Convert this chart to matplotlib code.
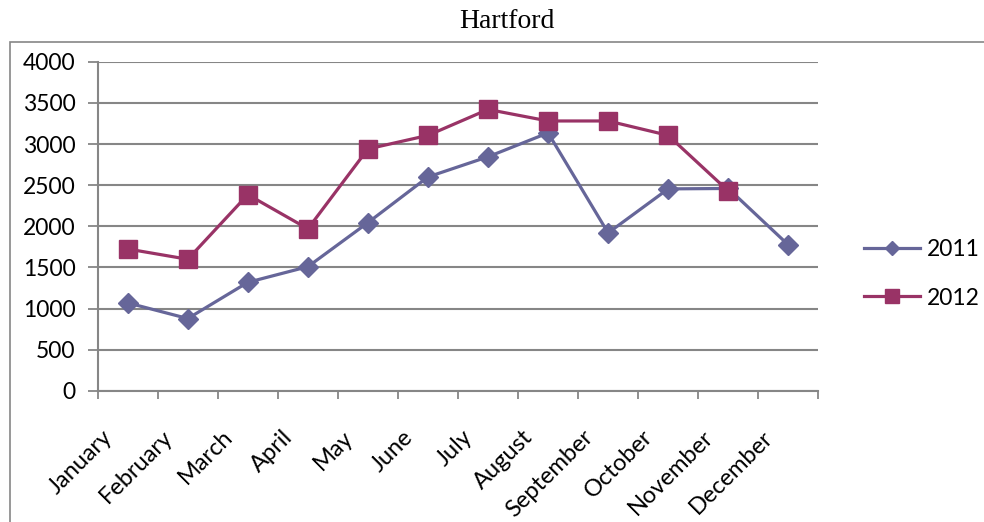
import numpy as np
import matplotlib.pyplot as plt
from matplotlib.patches import Rectangle

months = ['January', 'February', 'March', 'April', 'May', 'June', 'July',
          'August', 'September', 'October', 'November', 'December']
sales_2011 = [1070, 880, 1320, 1510, 2045, 2600, 2845, 3135, 1920, 2455, 2460, 1775]
sales_2012 = [1725, 1600, 2385, 1970, 2940, 3105, 3420, 3280, 3280, 3105, 2430]
y_ticks = [0, 500, 1000, 1500, 2000, 2500, 3000, 3500, 4000]

GRID = '#868686'
BLUE = '#666699'
RED = '#993366'


def plot_chart():
    plt.rcParams['font.family'] = ['Lato', 'DejaVu Sans']
    fig = plt.figure(figsize=(9.84, 5.22), dpi=100)
    ax = fig.add_axes([0.0993, 0.251, 0.7323, 0.6308])

    # outer chart frame, runs off the right and bottom edges
    frame = Rectangle((10 / 984, -0.1), 1.2, 1.0 - 42.3 / 522 + 0.1,
                      transform=fig.transFigure, fill=False,
                      edgecolor=GRID, linewidth=1.2, clip_on=False)
    fig.patches.append(frame)

    fig.text(0.515, 1 - 28.5 / 522, 'Hartford', ha='center', va='baseline',
             fontsize=20, family='Liberation Serif')

    x = np.arange(len(months)) + 0.5
    ax.plot(x, sales_2011, color=BLUE, linewidth=2.3, marker='D',
            markersize=10, label='2011', zorder=3)
    ax.plot(x[:len(sales_2012)], sales_2012, color=RED, linewidth=2.3,
            marker='s', markersize=13.5, label='2012', zorder=4)

    ax.set_xlim(0, len(months))
    ax.set_ylim(0, 4000)
    ax.set_yticks(y_ticks)
    ax.set_yticklabels([str(v) for v in y_ticks], fontsize=16.5)
    ax.yaxis.grid(True, color=GRID, linewidth=1.5)
    ax.set_axisbelow(True)

    # month names hang a bit left of each month's centre,
    # the visible ticks are on the month boundaries
    ax.set_xticks(x - 0.43)
    ax.set_xticklabels(months, rotation=45, ha='right',
                       rotation_mode='anchor', fontsize=17)
    ax.tick_params(axis='x', which='major', length=0, pad=25.5)
    ax.set_xticks(np.arange(len(months) + 1), minor=True)
    ax.tick_params(axis='x', which='minor', length=5.5, width=1.3,
                   color=GRID)
    ax.tick_params(axis='y', length=7, width=1.3, color=GRID, pad=9)

    for side in ['top', 'right']:
        ax.spines[side].set_visible(False)
    for side in ['left', 'bottom']:
        ax.spines[side].set_color(GRID)
        ax.spines[side].set_linewidth(1.5)

    ax.legend(loc='center left', bbox_to_anchor=(1.035, 0.356), frameon=False,
              fontsize=16.5, handlelength=2.43, labelspacing=1.2,
              handletextpad=0.3, markerscale=0.75)

    fig.savefig('out.png', dpi=100)


def main():
    plot_chart()


if __name__ == '__main__':
    main()
